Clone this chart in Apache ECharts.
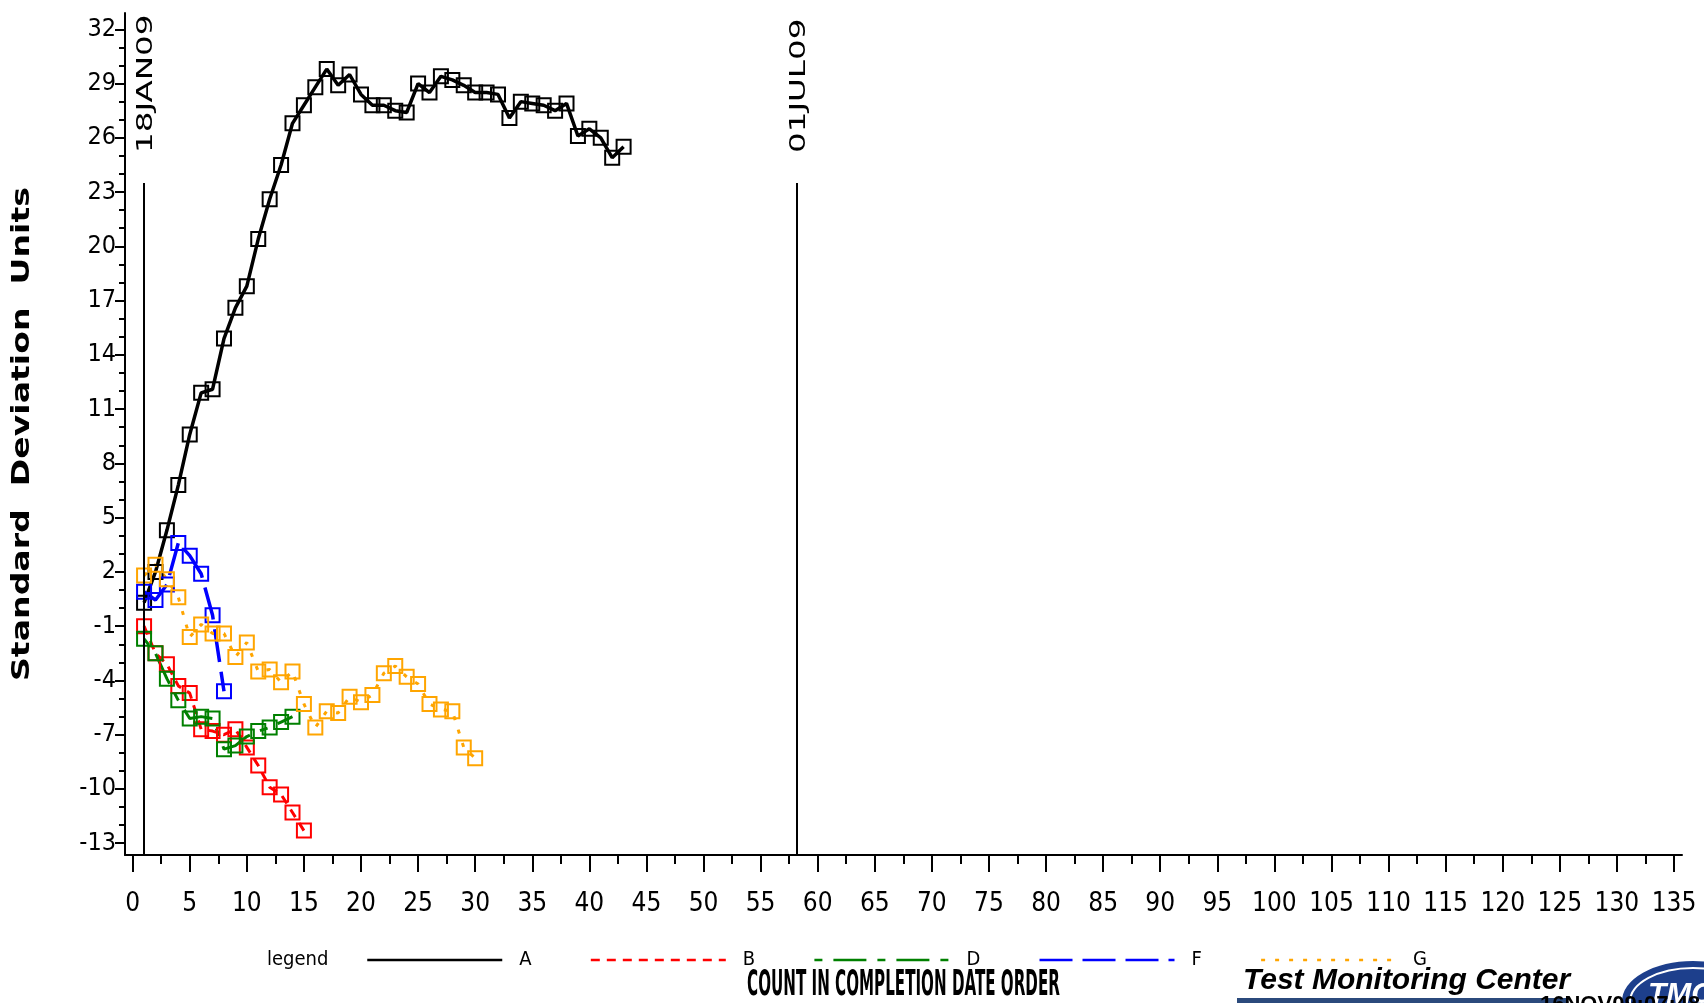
<!DOCTYPE html>
<html>
<head>
<meta charset="utf-8">
<script src="https://cdn.jsdelivr.net/npm/echarts@6/dist/echarts.min.js"></script>
<style>
html, body { margin: 0; padding: 0; background: #fff; }
#chart { width: 1704px; height: 1003px; }
</style>
</head>
<body>
<div id="chart"></div>
<script>
// values, one per test in completion order (x = 1, 2, 3 ...)
var seriesNames = ['A', 'B', 'D', 'F', 'G'];
var valuesA = [0.3, 2.0, 4.3, 6.8, 9.6, 11.9, 12.1, 14.9, 16.6, 17.8, 20.4, 22.6, 24.5, 26.8, 27.8,
  28.8, 29.8, 28.9, 29.5, 28.4, 27.8, 27.8, 27.5, 27.4, 29.0, 28.5, 29.4, 29.2, 28.9, 28.5,
  28.5, 28.4, 27.1, 28.0, 27.9, 27.8, 27.5, 27.9, 26.1, 26.5, 26.0, 24.9, 25.5];
var valuesB = [-1.0, -2.5, -3.1, -4.3, -4.7, -6.7, -6.8, -7.0, -6.7, -7.7, -8.7, -9.9, -10.3, -11.3, -12.3];
var valuesD = [-1.7, -2.5, -3.9, -5.1, -6.1, -6.0, -6.1, -7.8, -7.6, -7.1, -6.8, -6.6, -6.3, -6.0];
var valuesF = [0.9, 0.45, 1.3, 3.6, 2.9, 1.9, -0.4, -4.6];
var valuesG = [1.8, 2.4, 1.6, 0.6, -1.6, -0.9, -1.4, -1.4, -2.7, -1.9, -3.5, -3.4, -4.1, -3.5, -5.3,
  -6.6, -5.7, -5.8, -4.9, -5.2, -4.8, -3.6, -3.2, -3.8, -4.2, -5.3, -5.6, -5.7, -7.7, -8.3];

// axis ticks
var xTicks = [0, 5, 10, 15, 20, 25, 30, 35, 40, 45, 50, 55, 60, 65, 70, 75, 80, 85, 90, 95,
  100, 105, 110, 115, 120, 125, 130, 135];
var xMinorTicks = xTicks.map(function (v) { return v + 2.5; });
var yTicks = [-13, -10, -7, -4, -1, 2, 5, 8, 11, 14, 17, 20, 23, 26, 29, 32];
var yMinorTicks = [];
for (var t = -13; t <= 32; t++) { if (yTicks.indexOf(t) < 0) yMinorTicks.push(t); }

// date reference lines
var refLineX = [1, 58.2];
var refLineLabels = ['18JAN09', '01JUL09'];
var refLineTop = 23.5;

var xMin = -0.67, xMax = 135.7, yMin = -13.65, yMax = 32.9;
var narrow = "'DejaVu Sans Condensed', 'DejaVu Sans', sans-serif";

function pts(vals) {
    return vals.map(function (v, i) { return [i + 1, v]; });
}

function lineSeries(name, vals, color, dash, width) {
    return {
        name: name,
        type: 'line',
        data: pts(vals),
        symbol: 'rect',
        symbolSize: 14,
        lineStyle: { color: color, width: width, type: dash },
        itemStyle: { color: 'transparent', borderColor: color, borderWidth: 2 }
    };
}

var chart = echarts.init(document.getElementById('chart'));

var seriesA = lineSeries('A', valuesA, '#000000', 'solid', 3.5);
seriesA.markLine = {
    symbol: 'none',
    silent: true,
    label: { show: false },
    lineStyle: { color: '#000', width: 2, type: 'solid' },
    data: refLineX.map(function (x) {
        return [{ coord: [x, refLineTop] }, { coord: [x, yMin] }];
    })
};

var option = {
    animation: false,
    backgroundColor: '#fff',
    title: {
        text: 'legend',
        left: 267,
        top: 950,
        padding: 0,
        textStyle: { fontFamily: narrow, fontSize: 20, fontWeight: 'normal', color: '#000' }
    },
    legend: {
        left: 366,
        top: 950,
        padding: 0,
        itemWidth: 135,
        itemHeight: 14,
        itemGap: 58,
        itemStyle: { opacity: 0 },
        lineStyle: { width: 2.5 },
        textStyle: { fontFamily: narrow, fontSize: 20, color: '#000', padding: [0, 0, 0, 12] },
        data: seriesNames
    },
    grid: { left: 125, right: 22, top: 13, bottom: 148 },
    xAxis: [{
        type: 'value',
        min: xMin,
        max: xMax,
        axisLine: { show: true, onZero: false, lineStyle: { color: '#000', width: 2 } },
        axisTick: { show: true, customValues: xTicks, length: 17, lineStyle: { color: '#000', width: 2 } },
        axisLabel: { customValues: xTicks, margin: 36, fontFamily: narrow, fontSize: 26, color: '#000' },
        splitLine: { show: false }
    }, {
        type: 'value',
        min: xMin,
        max: xMax,
        position: 'bottom',
        axisLine: { show: false, onZero: false },
        axisTick: { show: true, customValues: xMinorTicks, length: 9, lineStyle: { color: '#000', width: 2 } },
        axisLabel: { show: false },
        splitLine: { show: false }
    }],
    yAxis: [{
        type: 'value',
        min: yMin,
        max: yMax,
        axisLine: { show: true, onZero: false, lineStyle: { color: '#000', width: 2 } },
        axisTick: { show: true, customValues: yTicks, length: 10, lineStyle: { color: '#000', width: 2 } },
        axisLabel: { customValues: yTicks, margin: 9, fontFamily: narrow, fontSize: 25, color: '#000' },
        splitLine: { show: false }
    }, {
        type: 'value',
        min: yMin,
        max: yMax,
        position: 'left',
        axisLine: { show: false, onZero: false },
        axisTick: { show: true, customValues: yMinorTicks, length: 6, lineStyle: { color: '#000', width: 2 } },
        axisLabel: { show: false },
        splitLine: { show: false }
    }],
    series: [
        seriesA,
        lineSeries('B', valuesB, '#ff0000', [9, 7], 3),
        lineSeries('D', valuesD, '#008000', [8, 11, 33, 11], 3),
        lineSeries('F', valuesF, '#0000ff', [33, 10], 3.5),
        lineSeries('G', valuesG, '#ffa500', [4, 10], 3)
    ]
};

chart.setOption(option);

// texts placed from the axes' own scale
var graphics = [];
refLineX.forEach(function (x, i) {
    var p = chart.convertToPixel({ xAxisIndex: 0, yAxisIndex: 0 }, [x, refLineTop]);
    graphics.push({
        type: 'text',
        x: p[0] + 2,
        y: p[1] - 30,
        rotation: Math.PI / 2,
        scaleX: 1.55,
        style: { text: refLineLabels[i], font: '21px "DejaVu Sans"', fill: '#000', align: 'left', verticalAlign: 'middle' }
    });
});

// x axis title, very condensed bold lettering
var mid = chart.convertToPixel({ xAxisIndex: 0 }, (xMin + xMax) / 2);
graphics.push({
    type: 'text',
    x: mid,
    y: 1004,
    scaleX: 0.42,
    style: { text: 'COUNT IN COMPLETION DATE ORDER', font: 'bold 36px "DejaVu Sans"', fill: '#000', align: 'center', verticalAlign: 'bottom' }
});

// y axis title, wide bold lettering
graphics.push({
    type: 'text',
    x: 23,
    y: 434,
    rotation: Math.PI / 2,
    scaleX: 1.38,
    style: { text: 'Standard  Deviation  Units', font: 'bold 24px "DejaVu Sans"', fill: '#000', align: 'center', verticalAlign: 'middle' }
});

// footer logo
graphics.push({
    type: 'rect',
    shape: { x: 1237, y: 998, width: 330, height: 5 },
    style: { fill: '#2b4a7c' }
});
graphics.push({
    type: 'text',
    x: 1243,
    y: 966,
    style: { text: 'Test Monitoring Center', font: 'italic bold 30px "Liberation Sans"', fill: '#000' }
});
graphics.push({
    type: 'ellipse',
    shape: { cx: 1693, cy: 1002, rx: 70, ry: 40 },
    style: { fill: '#1d3f8c', stroke: '#1d3f8c', lineWidth: 2 }
});
graphics.push({
    type: 'ellipse',
    shape: { cx: 1693, cy: 1002, rx: 63, ry: 34 },
    style: { fill: 'none', stroke: '#fff', lineWidth: 2 }
});
graphics.push({
    type: 'text',
    x: 1648,
    y: 980,
    style: { text: 'TMC', font: 'italic bold 30px "Liberation Sans"', fill: '#fff' }
});
graphics.push({
    type: 'text',
    x: 1540,
    y: 994,
    style: { text: '16NOV09:07:48', font: 'bold 22px "Liberation Sans"', fill: '#000' }
});

chart.setOption({ graphic: graphics });
</script>
</body>
</html>
